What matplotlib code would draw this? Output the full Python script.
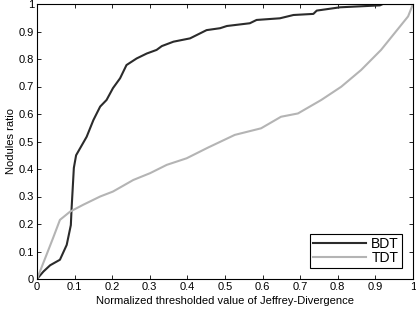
import matplotlib
matplotlib.use("Agg")
import matplotlib.pyplot as plt

plt.rcParams['font.family'] = ['Liberation Sans', 'DejaVu Sans']

# BDT curve (dark)
bdt_x = [0.0, 0.017, 0.035, 0.061, 0.079, 0.09, 0.092, 0.095, 0.098, 0.104, 0.132, 0.15,
         0.168, 0.185, 0.202, 0.221, 0.238, 0.265, 0.292, 0.30, 0.318, 0.332, 0.363, 0.407,
         0.451, 0.487, 0.505, 0.566, 0.584, 0.646, 0.682, 0.735, 0.744, 0.806, 0.912,
         0.92, 1.0]
bdt_y = [0.0, 0.027, 0.05, 0.07, 0.124, 0.196, 0.257, 0.33, 0.404, 0.45, 0.517, 0.578,
         0.627, 0.651, 0.694, 0.73, 0.778, 0.802, 0.82, 0.824, 0.833, 0.847, 0.863, 0.875,
         0.905, 0.912, 0.92, 0.93, 0.942, 0.948, 0.96, 0.964, 0.976, 0.988, 0.995,
         1.0, 1.0]

# TDT curve (light gray)
tdt_x = [0.0, 0.025, 0.043, 0.061, 0.088, 0.123, 0.168, 0.202, 0.256, 0.301, 0.345, 0.398,
         0.455, 0.526, 0.596, 0.649, 0.694, 0.756, 0.809, 0.862, 0.915, 0.951, 0.987, 1.0]
tdt_y = [0.0, 0.087, 0.15, 0.215, 0.245, 0.27, 0.3, 0.318, 0.36, 0.385, 0.415, 0.439,
         0.478, 0.524, 0.548, 0.59, 0.602, 0.651, 0.699, 0.76, 0.833, 0.894, 0.955, 1.0]

fig = plt.figure(figsize=(4.16, 3.11), dpi=100)
ax = fig.add_axes([37 / 416, 32 / 311, 376 / 416, 275 / 311])

ax.plot(bdt_x, bdt_y, color='#2b2b2b', lw=1.5, label='BDT')
ax.plot(tdt_x, tdt_y, color='#b4b4b4', lw=1.5, label='TDT')

ax.set_xlim(0, 1)
ax.set_ylim(0, 1)
ticks = [0, 0.1, 0.2, 0.3, 0.4, 0.5, 0.6, 0.7, 0.8, 0.9, 1]
labels = ['0', '0.1', '0.2', '0.3', '0.4', '0.5', '0.6', '0.7', '0.8', '0.9', '1']
ax.set_xticks(ticks)
ax.set_xticklabels(labels)
ax.set_yticks(ticks)
ax.set_yticklabels(labels)
ax.tick_params(direction='in', top=True, right=True, labelsize=8, length=3, width=0.6, pad=2)
for s in ax.spines.values():
    s.set_linewidth(0.8)

ax.set_xlabel('Normalized thresholded value of Jeffrey-Divergence', fontsize=8, labelpad=3)
ax.set_ylabel('Nodules ratio', fontsize=8, labelpad=2)

leg = ax.legend(loc='lower right', fontsize=10, fancybox=False, framealpha=1,
                edgecolor='black', handlelength=3.8, borderpad=0.2, labelspacing=0.0,
                handletextpad=0.4, borderaxespad=0.8)
leg.get_frame().set_linewidth(0.8)

fig.savefig('out.png', dpi=100)
